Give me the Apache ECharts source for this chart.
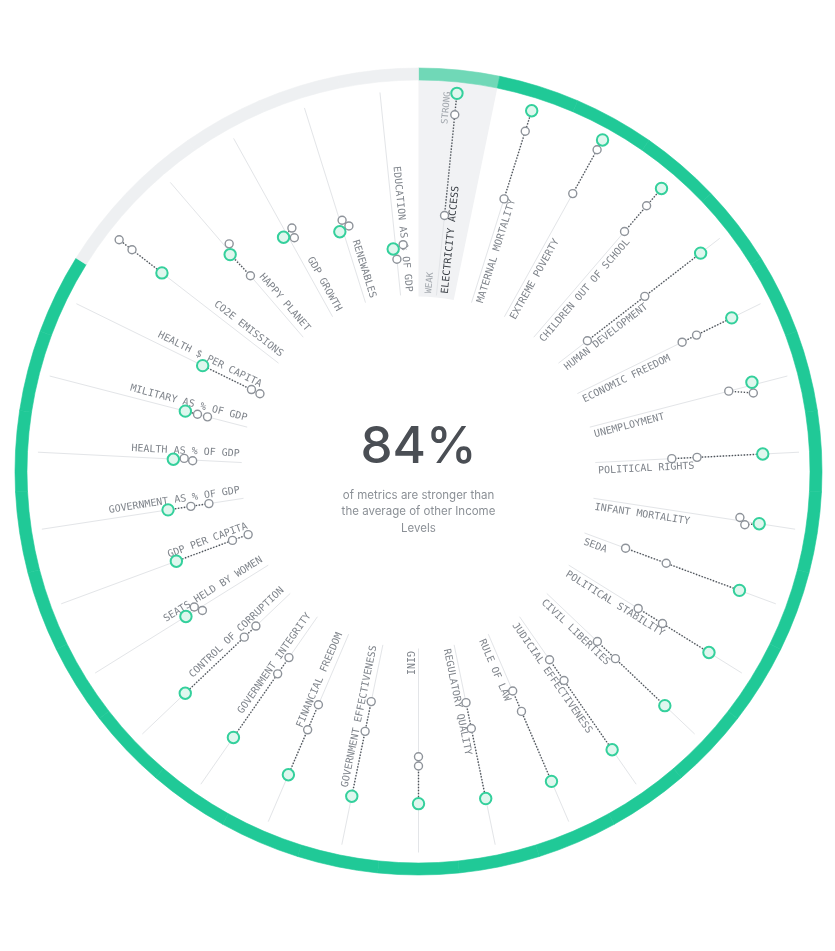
<!DOCTYPE html>
<html>
<head>
<meta charset="utf-8">
<script src="https://cdn.jsdelivr.net/npm/echarts@6/dist/echarts.min.js"></script>
<style>
html,body{margin:0;padding:0;background:#ffffff;}
#chart{width:835px;height:951px;}
</style>
</head>
<body>
<div id="chart"></div>
<script>
// ---- data (strength score, 0 = weak at the inner end, 100 = strong at the outer end) ----
const metrics = [
  'ELECTRICITY ACCESS', 'MATERNAL MORTALITY', 'EXTREME POVERTY', 'CHILDREN OUT OF SCHOOL',
  'HUMAN DEVELOPMENT', 'ECONOMIC FREEDOM', 'UNEMPLOYMENT', 'POLITICAL RIGHTS',
  'INFANT MORTALITY', 'SEDA', 'POLITICAL STABILITY', 'CIVIL LIBERTIES',
  'JUDICIAL EFFECTIVENESS', 'RULE OF LAW', 'REGULATORY QUALITY', 'GINI',
  'GOVERNMENT EFFECTIVENESS', 'FINANCIAL FREEDOM', 'GOVERNMENT INTEGRITY', 'CONTROL OF CORRUPTION',
  'SEATS HELD BY WOMEN', 'GDP PER CAPITA', 'GOVERNMENT AS % OF GDP', 'HEALTH AS % OF GDP',
  'MILITARY AS % OF GDP', 'HEALTH $ PER CAPITA', 'CO2E EMISSIONS', 'HAPPY PLANET',
  'GDP GROWTH', 'RENEWABLES', 'EDUCATION AS % OF GDP'
];
const thisLevel = [
  95.5, 94.6, 95.1, 92.3, 84.9, 81.3, 79.6, 79.4,
  79.4, 78.3, 78.3, 77.2, 76.8, 76.0, 74.5, 73.7,
  73.4, 72.7, 70.0, 69.0, 47.3, 40.1, 37.9, 34.3,
  32.2, 32.0, 70.2, 53.3, 45.6, 37.4, 24.5
];
const otherLevelA = [
  85.7, 84.8, 90.0, 81.9, 52.8, 63.5, 79.0, 49.5,
  73.0, 42.8, 53.4, 46.2, 38.5, 41.4, 42.0, 56.6,
  43.3, 50.5, 34.8, 32.0, 41.8, 12.9, 27.4, 29.4,
  26.5, 7.3, 87.4, 57.3, 47.4, 42.1, 26.0
];
const otherLevelB = [
  39.7, 52.6, 67.2, 66.5, 19.8, 56.2, 68.4, 38.0,
  70.3, 23.1, 40.4, 34.9, 27.0, 31.3, 30.0, 52.4,
  29.5, 38.1, 25.8, 24.7, 39.5, 5.3, 19.1, 25.5,
  21.8, 3.0, 94.8, 40.0, 43.0, 38.7, 19.7
];
const highlighted = 'ELECTRICITY ACCESS';
const scaleEnds = ['WEAK', 'STRONG'];
const subtitle = 'of metrics are stronger than\nthe average of other Income\nLevels';

// ---- derived ----
const N = metrics.length;
const stronger = metrics.map((m, i) => thisLevel[i] > Math.max(otherLevelA[i], otherLevelB[i]));
const pct = Math.round(100 * stronger.filter(Boolean).length / N);

const GREEN = '#20c997';
const GREEN_LIGHT = '#70d8b7';
const RING_GRAY = '#eef0f2';
const MONO = '"DejaVu Sans Mono", "Liberation Mono", monospace';

function geom(params, api, i) {
  const cs = params.coordSys;
  const c = [cs.cx, cs.cy];
  const p = api.coord([50, i]);
  let ux = p[0] - c[0], uy = p[1] - c[1];
  const L = Math.hypot(ux, uy); ux /= L; uy /= L;
  return { c: c, ux: ux, uy: uy, tx: -uy, ty: ux, ang: Math.atan2(uy, ux), right: (i + 0.5) / N <= 0.5 };
}
function at(g, r, off) {
  return [g.c[0] + g.ux * r + g.tx * off, g.c[1] + g.uy * r + g.ty * off];
}
function radialPx(api, g, v, i) {
  const p = api.coord([v, i]);
  return Math.hypot(p[0] - g.c[0], p[1] - g.c[1]);
}
// simple collision spreading perpendicular to the metric's spoke
function spread(rad, big) {
  const n = rad.length, t = new Array(n).fill(0);
  const size = big.map(b => b ? 6.6 : 4.6);
  const w = big.map(b => b ? 0.35 : 1);
  for (let it = 0; it < 40; it++) {
    for (let a = 0; a < n; a++) for (let b = a + 1; b < n; b++) {
      const dr = rad[b] - rad[a], dt = t[b] - t[a];
      const need = size[a] + size[b] - 0.4;
      if (Math.abs(dr) >= need) continue;
      const want = Math.sqrt(need * need - dr * dr);
      if (Math.abs(dt) >= want) continue;
      const s = dt === 0 ? (b % 2 ? 1 : -1) : Math.sign(dt);
      const move = want - Math.abs(dt);
      t[a] -= s * move * w[a] / (w[a] + w[b]);
      t[b] += s * move * w[b] / (w[a] + w[b]);
    }
  }
  return t;
}
function pointsFor(params, api, i, g) {
  const vals = [thisLevel[i], otherLevelA[i], otherLevelB[i]];
  const big = [true, false, false];
  const rad = vals.map(v => radialPx(api, g, v, i));
  const t = spread(rad, big);
  return vals.map((v, k) => ({ r: rad[k], big: big[k], p: at(g, rad[k], t[k]) }));
}

const indexData = metrics.map((m, i) => [0, i]);

const option = {
  backgroundColor: '#ffffff',
  animation: false,
  polar: { center: [418.5, 471.5], radius: [170, 390] },
  angleAxis: {
    type: 'category', data: metrics, startAngle: 90, clockwise: true,
    axisLine: { show: false }, axisTick: { show: false }, axisLabel: { show: false }, splitLine: { show: false }
  },
  radiusAxis: {
    type: 'value', min: 0, max: 100,
    axisLine: { show: false }, axisTick: { show: false }, axisLabel: { show: false }, splitLine: { show: false }
  },
  graphic: [
    {
      type: 'text', x: 418.5, y: 448, silent: true,
      style: { text: pct + '%', font: '500 51px Inter, "Noto Sans", sans-serif', fill: '#4a4e54', align: 'center', verticalAlign: 'middle' }
    },
    {
      type: 'text', x: 418.5, y: 487, silent: true,
      style: { text: subtitle, font: '11.5px Inter, "Noto Sans", sans-serif', fill: '#8b9096', align: 'center', verticalAlign: 'top', lineHeight: 16.5 }
    }
  ],
  series: [
    {
      type: 'custom', coordinateSystem: 'polar', z: 1, silent: true, data: indexData,
      renderItem: function (params, api) {
        const i = api.value(1);
        const g = geom(params, api, i);
        const half = Math.PI / N;
        const children = [];
        if (metrics[i] === highlighted) {
          children.push({ type: 'sector', shape: { cx: g.c[0], cy: g.c[1], r0: 175, r: 392, startAngle: g.ang - half, endAngle: g.ang + half, clockwise: true },
            style: { fill: '#f1f2f4' } });
        }
        const col = metrics[i] === highlighted ? GREEN_LIGHT : (stronger[i] ? GREEN : RING_GRAY);
        children.push({ type: 'sector', shape: { cx: g.c[0], cy: g.c[1], r0: 391.5, r: 403.5, startAngle: g.ang - half, endAngle: g.ang + half, clockwise: true },
          style: { fill: col, stroke: col, lineWidth: 0.6 } });
        return { type: 'group', children: children };
      }
    },
    {
      type: 'custom', coordinateSystem: 'polar', z: 2, silent: true, data: indexData,
      renderItem: function (params, api) {
        const i = api.value(1);
        const g = geom(params, api, i);
        const children = [];
        const a = at(g, 177, 0), b = at(g, 381, 0);
        children.push({ type: 'line', shape: { x1: a[0], y1: a[1], x2: b[0], y2: b[1] }, style: { stroke: '#e3e5e8', lineWidth: 1 } });
        const isHi = metrics[i] === highlighted;
        const rotOut = Math.atan2(-g.uy, g.ux);
        const rot = g.right ? rotOut : Math.atan2(g.uy, -g.ux);
        const lp = at(g, 179.5, 8.5);
        children.push({ type: 'text', x: lp[0], y: lp[1], rotation: rot,
          style: { text: metrics[i], font: '10px ' + MONO, fill: isHi ? '#3a3f45' : '#7f848b',
            align: g.right ? 'left' : 'right', verticalAlign: 'middle' } });
        if (isHi) {
          const wp = at(g, 178, -8);
          children.push({ type: 'text', x: wp[0], y: wp[1], rotation: rot,
            style: { text: scaleEnds[0], font: '9px ' + MONO, fill: '#a2a7ad', align: g.right ? 'left' : 'right', verticalAlign: 'middle' } });
          const sp = at(g, 381, -9);
          children.push({ type: 'text', x: sp[0], y: sp[1], rotation: rot,
            style: { text: scaleEnds[1], font: '9px ' + MONO, fill: '#a2a7ad', align: g.right ? 'right' : 'left', verticalAlign: 'middle' } });
        }
        const pts = pointsFor(params, api, i, g).slice().sort((p, q) => p.r - q.r);
        children.push({ type: 'polyline', shape: { points: pts.map(p => p.p) },
          style: { stroke: '#4f545a', lineWidth: 1.4, lineDash: [1.4, 1.6], fill: null } });
        return { type: 'group', children: children };
      }
    },
    {
      type: 'custom', coordinateSystem: 'polar', z: 3, silent: true, data: indexData,
      renderItem: function (params, api) {
        const i = api.value(1);
        const g = geom(params, api, i);
        const pts = pointsFor(params, api, i, g);
        const children = [];
        pts.filter(p => !p.big).forEach(p => {
          children.push({ type: 'circle', shape: { cx: p.p[0], cy: p.p[1], r: 4 }, style: { fill: '#ffffff', stroke: '#8e939a', lineWidth: 1.4 } });
        });
        pts.filter(p => p.big).forEach(p => {
          children.push({ type: 'circle', shape: { cx: p.p[0], cy: p.p[1], r: 5.7 }, style: { fill: '#dff7ee', stroke: '#34d09c', lineWidth: 2 } });
        });
        return { type: 'group', children: children };
      }
    }
  ]
};

const chart = echarts.init(document.getElementById('chart'), null, { renderer: 'canvas' });
chart.setOption(option);
</script>
</body>
</html>
